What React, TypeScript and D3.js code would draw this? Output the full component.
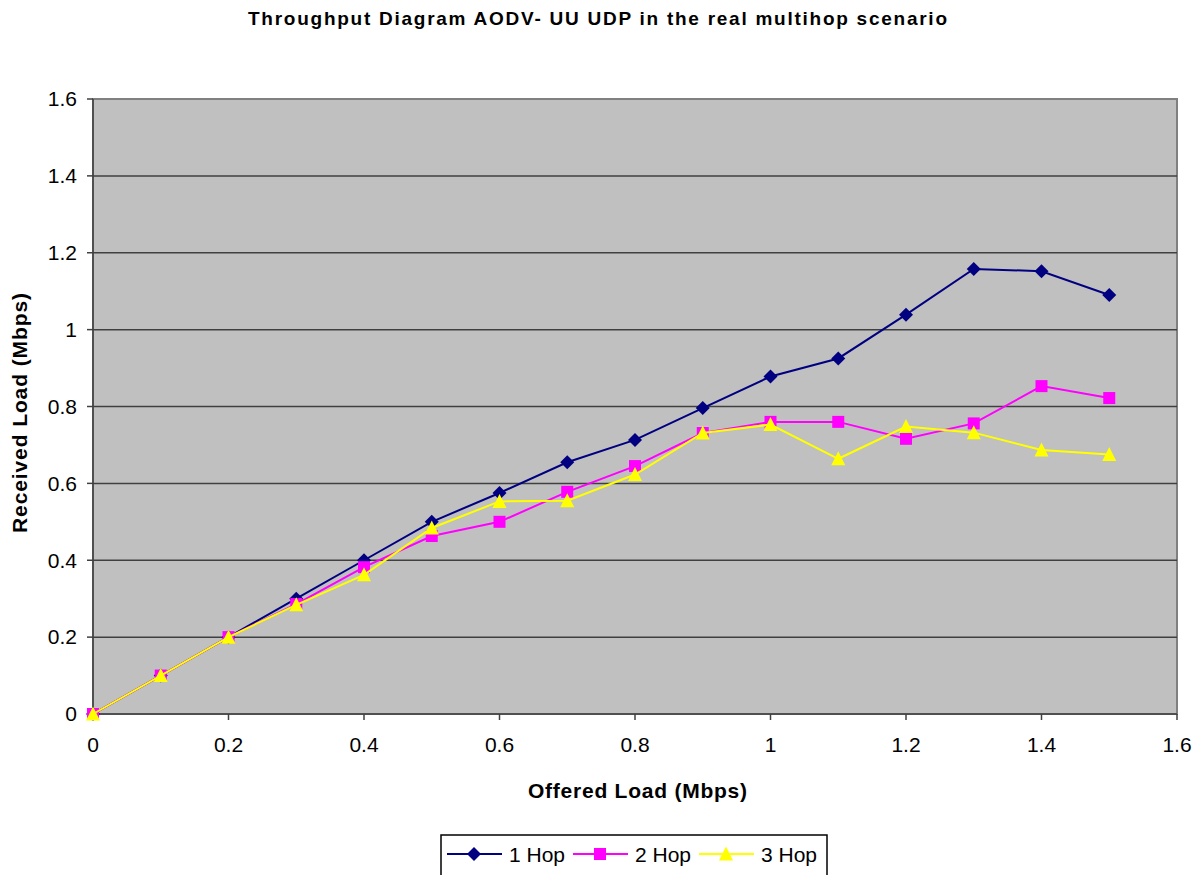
import * as d3 from "d3";

const offered = [0, 0.1, 0.2, 0.3, 0.4, 0.5, 0.6, 0.7, 0.8, 0.9, 1.0, 1.1, 1.2, 1.3, 1.4, 1.5];
const hop1 = [0, 0.1, 0.2, 0.3, 0.4, 0.5, 0.575, 0.655, 0.713, 0.796, 0.878, 0.925, 1.039, 1.158, 1.152, 1.09];
const hop2 = [0, 0.1, 0.2, 0.286, 0.382, 0.463, 0.5, 0.578, 0.645, 0.731, 0.76, 0.76, 0.716, 0.756, 0.853, 0.822];
const hop3 = [0, 0.1, 0.2, 0.284, 0.362, 0.484, 0.553, 0.555, 0.623, 0.731, 0.753, 0.664, 0.748, 0.732, 0.687, 0.675];
const seriesNames = ["1 Hop", "2 Hop", "3 Hop"];
const seriesColors = ["#000080", "#FF00FF", "#FFFF00"];
const tickValues = [0, 0.2, 0.4, 0.6, 0.8, 1.0, 1.2, 1.4, 1.6];

const FONT = "Arial, 'Liberation Sans', sans-serif";

const PLOT = { left: 93, right: 1177, top: 99, bottom: 714 };

type Shape = "diamond" | "square" | "triangle";
const shapes: Shape[] = ["diamond", "square", "triangle"];

function marker(shape: Shape, cx: number, cy: number, color: string, key: string) {
  if (shape === "diamond") {
    const r = 7;
    return <path key={key} d={`M${cx},${cy - r}L${cx + r},${cy}L${cx},${cy + r}L${cx - r},${cy}Z`} fill={color} />;
  }
  if (shape === "square") {
    const s = 12;
    return <rect key={key} x={cx - s / 2} y={cy - s / 2} width={s} height={s} fill={color} />;
  }
  const h = 13;
  const w = 14;
  return (
    <path
      key={key}
      d={`M${cx},${cy - h / 2 - 1}L${cx + w / 2},${cy + h / 2}L${cx - w / 2},${cy + h / 2}Z`}
      fill={color}
    />
  );
}

export default function App() {
  const x = d3.scaleLinear().domain([0, 1.6]).range([PLOT.left, PLOT.right]);
  const y = d3.scaleLinear().domain([0, 1.6]).range([PLOT.bottom, PLOT.top]);
  const data = [hop1, hop2, hop3];

  const line = d3
    .line<number>()
    .x((_, i) => x(offered[i]))
    .y((d) => y(d));

  return (
    <svg width={1200} height={875} style={{ position: "absolute", left: 0, top: 0 }} fontFamily={FONT}>
      <rect width={1200} height={875} fill="#fff" />
      <text
        x={248}
        y={25}
        fontSize={19}
        fontWeight="bold"
        fill="#000"
        textLength={699}
        lengthAdjust="spacing"
      >
        Throughput Diagram AODV- UU UDP in the real multihop scenario
      </text>

      <rect
        x={PLOT.left}
        y={PLOT.top}
        width={PLOT.right - PLOT.left}
        height={PLOT.bottom - PLOT.top}
        fill="#C0C0C0"
        stroke="#808080"
        strokeWidth={2}
      />
      {tickValues.slice(1, -1).map((t) => (
        <line key={t} x1={PLOT.left} x2={PLOT.right} y1={y(t)} y2={y(t)} stroke="#404040" strokeWidth={1.5} />
      ))}
      <line x1={PLOT.left} x2={PLOT.left} y1={PLOT.top} y2={PLOT.bottom} stroke="#404040" strokeWidth={1.5} />
      <line x1={PLOT.left} x2={PLOT.right} y1={PLOT.bottom} y2={PLOT.bottom} stroke="#404040" strokeWidth={1.5} />

      {tickValues.map((t) => (
        <g key={`y${t}`}>
          <line x1={PLOT.left - 6} x2={PLOT.left} y1={y(t)} y2={y(t)} stroke="#404040" strokeWidth={1.5} />
          <text x={PLOT.left - 16} y={y(t)} dy="0.35em" textAnchor="end" fontSize={21} fill="#000">
            {d3.format("~g")(t)}
          </text>
        </g>
      ))}
      {tickValues.map((t) => (
        <g key={`x${t}`}>
          <line x1={x(t)} x2={x(t)} y1={PLOT.bottom} y2={PLOT.bottom + 6} stroke="#404040" strokeWidth={1.5} />
          <text x={x(t)} y={752} textAnchor="middle" fontSize={21} fill="#000">
            {d3.format("~g")(t)}
          </text>
        </g>
      ))}

      <text x={528} y={798} fontSize={21} fontWeight="bold" fill="#000" textLength={219} lengthAdjust="spacing">
        Offered Load (Mbps)
      </text>
      <text
        transform="translate(27,533) rotate(-90)"
        fontSize={21}
        fontWeight="bold"
        fill="#000"
        textLength={240}
        lengthAdjust="spacing"
      >
        Received Load (Mbps)
      </text>

      {data.map((s, si) => (
        <g key={seriesNames[si]}>
          <path d={line(s) ?? ""} fill="none" stroke={seriesColors[si]} strokeWidth={2} />
          {s.map((v, i) => marker(shapes[si], x(offered[i]), y(v), seriesColors[si], `${si}-${i}`))}
        </g>
      ))}

      <rect x={441} y={835} width={386} height={44} fill="#fff" stroke="#000" strokeWidth={1.5} />
      {seriesNames.map((name, i) => {
        const x0 = 447 + i * 126;
        const cy = 854;
        return (
          <g key={name}>
            <line x1={x0} x2={x0 + 55} y1={cy} y2={cy} stroke={seriesColors[i]} strokeWidth={2} />
            {marker(shapes[i], x0 + 27, cy, seriesColors[i], `l${i}`)}
            <text x={x0 + 62} y={cy} dy="0.36em" fontSize={21} fill="#000">
              {name}
            </text>
          </g>
        );
      })}
    </svg>
  );
}
